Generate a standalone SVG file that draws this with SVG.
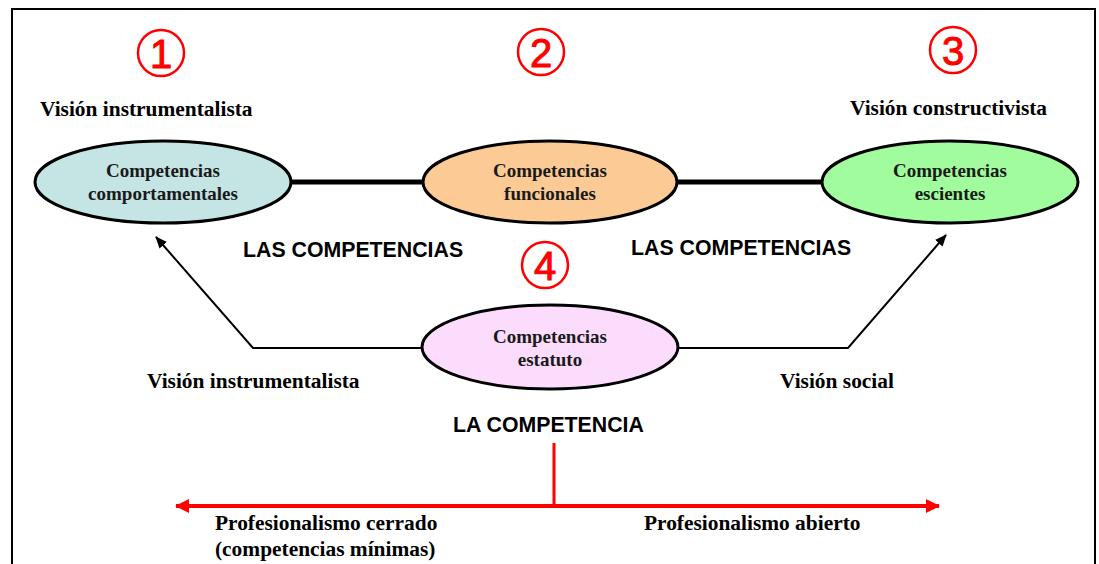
<svg xmlns="http://www.w3.org/2000/svg" width="1099" height="564" viewBox="0 0 1099 564">
<style>
.ell{stroke:#000;stroke-width:3}
.et{font-family:"Liberation Serif",serif;font-weight:bold;font-size:19px;fill:#1a1a1a;text-anchor:middle}
.lbl{font-family:"Liberation Serif",serif;font-weight:bold;font-size:21.4px;fill:#000}
.cap{font-family:"Liberation Sans",sans-serif;font-weight:bold;font-size:21.3px;fill:#000}
.num circle{fill:none;stroke:#f00;stroke-width:2.5}
.num text{font-family:"Liberation Sans",sans-serif;font-size:40px;fill:#f00;stroke:#f00;stroke-width:1;text-anchor:middle}
.conn{fill:none;stroke:#000}
</style>
<defs>
<marker id="ah" viewBox="0 0 12 10" refX="11" refY="5" markerWidth="12" markerHeight="10" markerUnits="userSpaceOnUse" orient="auto"><path d="M0,0L12,5L0,10z" fill="#000"/></marker>
<marker id="rh" viewBox="0 0 14 14" refX="13" refY="7" markerWidth="14" markerHeight="14" markerUnits="userSpaceOnUse" orient="auto-start-reverse"><path d="M0,0L14,7L0,14z" fill="#f00"/></marker>
</defs>
<rect width="1099" height="564" fill="#fff"/>
<rect x="12" y="9" width="1083" height="600" fill="none" stroke="#000" stroke-width="2"/>

<g id="connectors">
<line class="conn" x1="290" y1="182" x2="424" y2="182" stroke-width="5"/>
<line class="conn" x1="677" y1="182" x2="823" y2="182" stroke-width="5"/>
<polyline class="conn" points="422,348 253,348 156,237" stroke-width="2" marker-end="url(#ah)"/>
<polyline class="conn" points="679,348 848,348 946,235" stroke-width="2" marker-end="url(#ah)"/>
<line x1="554" y1="443" x2="554" y2="505" stroke="#f00" stroke-width="3"/>
<line x1="176" y1="506" x2="939" y2="506" stroke="#f00" stroke-width="4" marker-start="url(#rh)" marker-end="url(#rh)"/>
</g>

<g id="n1" class="num"><circle cx="161" cy="53" r="23"/><text x="161" y="68">1</text></g>
<g id="n2" class="num"><circle cx="541" cy="52" r="23"/><text x="541" y="67">2</text></g>
<g id="n3" class="num"><circle cx="953" cy="50" r="23"/><text x="953" y="65">3</text></g>
<g id="n4" class="num"><circle cx="545" cy="265" r="23"/><text x="545" y="280">4</text></g>

<g id="comportamentales">
<ellipse class="ell" cx="163" cy="182" rx="128" ry="41" fill="#c5e4e4"/>
<text class="et" x="163" y="177">Competencias</text>
<text class="et" x="163" y="200">comportamentales</text>
</g>
<g id="funcionales">
<ellipse class="ell" cx="550" cy="182" rx="127" ry="41" fill="#fccb95"/>
<text class="et" x="550" y="177">Competencias</text>
<text class="et" x="550" y="200">funcionales</text>
</g>
<g id="escientes">
<ellipse class="ell" cx="950" cy="182" rx="128" ry="41" fill="#a0fc9c"/>
<text class="et" x="950" y="177">Competencias</text>
<text class="et" x="950" y="200">escientes</text>
</g>
<g id="estatuto">
<ellipse class="ell" cx="550" cy="347" rx="128" ry="42" fill="#fcdcfc"/>
<text class="et" x="550" y="343">Competencias</text>
<text class="et" x="550" y="366">estatuto</text>
</g>

<g id="labels">
<text class="lbl" x="40" y="116">Visión instrumentalista</text>
<text class="lbl" x="850" y="115">Visión constructivista</text>
<text class="cap" x="243" y="257">LAS COMPETENCIAS</text>
<text class="cap" x="631" y="255">LAS COMPETENCIAS</text>
<text class="lbl" x="147" y="388">Visión instrumentalista</text>
<text class="lbl" x="780" y="388">Visión social</text>
<text class="cap" x="453" y="432">LA COMPETENCIA</text>
<text class="lbl" x="215" y="530">Profesionalismo cerrado</text>
<text class="lbl" x="215" y="556">(competencias mínimas)</text>
<text class="lbl" x="644" y="530">Profesionalismo abierto</text>
</g>
</svg>
